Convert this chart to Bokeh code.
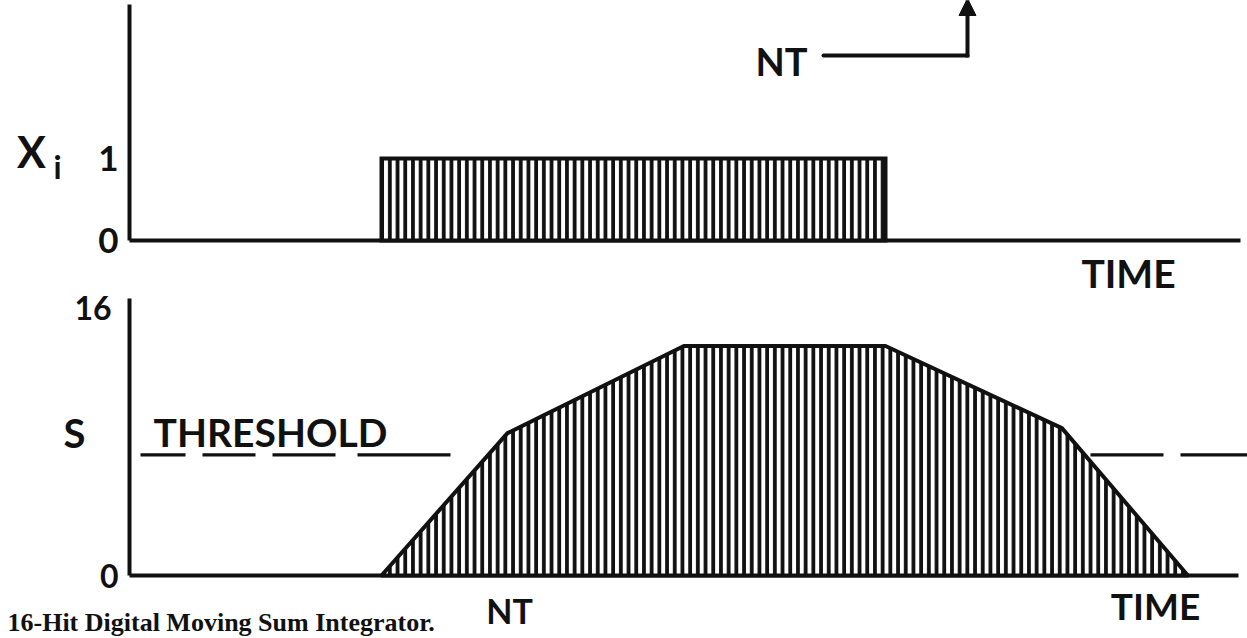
from bokeh.plotting import figure
from bokeh.models import Range1d, Arrow, NormalHead
from bokeh.core.properties import value
from bokeh.embed import file_html
from bokeh.resources import INLINE

# ---------------- data ----------------
pulse_start = [10.0]
pulse_end = [30.0]
pulse_level = [1.0]

sum_t = [10.0, 15.0, 22.0, 30.0, 37.0, 42.0]
sum_s = [0.0, 8.5, 13.7, 13.7, 8.8, 0.0]

threshold = 7.2

xi_ticks = [0, 1]
xi_tick_labels = ["0", "1"]
s_ticks = [0, 16]
s_tick_labels = ["0", "16"]

# ---------------- layout constants (pixels) ----------------
W, H = 1247, 638
PX_T0, PX_PER_T = 129.0, 25.2      # time axis
TOP_Y0, TOP_PX = 240.0, 82.0       # Xi panel
BOT_Y0, BOT_PX = 575.0, 16.75      # S panel


def tx(px):
    return (px - PX_T0) / PX_PER_T


def ty_top(py):
    return (TOP_Y0 - py) / TOP_PX


def ty_bot(py):
    return (BOT_Y0 - py) / BOT_PX


SANS = value("Lato")
SERIF = value("Liberation Serif")
INK = "#111111"
LW = 4

p = figure(width=W, height=H, output_backend="svg", toolbar_location=None,
           x_range=Range1d(tx(0), tx(W)), y_range=Range1d(ty_bot(H), ty_bot(0)),
           x_axis_location=None, y_axis_location=None,
           min_border=0, min_border_left=0, min_border_right=0,
           min_border_top=0, min_border_bottom=0)
p.extra_y_ranges = {"xi": Range1d(ty_top(H), ty_top(0))}
p.grid.visible = False
p.outline_line_color = None
p.background_fill_color = "white"
p.border_fill_color = "white"


def label(x, y, txt, size, rng=None, align="center"):
    kw = dict(y_range_name=rng) if rng else {}
    p.text(x=x, y=y, text=txt, text_font=SANS, text_font_size=size,
           text_font_style="bold", text_align=align, text_baseline="middle",
           text_color=INK, **kw)


# ---------------- top panel: X_i ----------------
p.segment(x0=[0], y0=[0], x1=[0], y1=[ty_top(4)], y_range_name="xi",
          line_color=INK, line_width=LW)
p.segment(x0=[0], y0=[0], x1=[tx(1240)], y1=[0], y_range_name="xi",
          line_color=INK, line_width=LW)
p.quad(left=pulse_start, right=pulse_end, bottom=[0], top=pulse_level,
       y_range_name="xi", fill_color="white", line_color=INK, line_width=LW,
       line_join="miter", hatch_pattern="vertical_line", hatch_color=INK,
       hatch_weight=3.8, hatch_scale=7.7)

label([tx(118)] * 2, xi_ticks, xi_tick_labels, "35px", "xi", "right")
label([tx(31)], [ty_top(151)], ["X"], "43px", "xi")
label([tx(57)], [ty_top(166)], ["i"], "32px", "xi")
label([tx(1128)], [ty_top(272)], ["TIME"], "39px", "xi")

# NT arrow
label([tx(781)], [ty_top(60)], ["NT"], "38px", "xi")
p.segment(x0=[tx(823)], y0=[ty_top(55)], x1=[tx(967)], y1=[ty_top(55)],
          y_range_name="xi", line_color=INK, line_width=LW, line_cap="round")
p.add_layout(Arrow(x_start=tx(967), y_start=ty_top(57), x_end=tx(967),
                   y_end=ty_top(-2), y_range_name="xi", line_color=INK,
                   line_width=LW,
                   end=NormalHead(size=17, fill_color=INK, line_color=INK,
                                  line_width=1)))

# ---------------- bottom panel: S ----------------
p.segment(x0=[0], y0=[0], x1=[0], y1=[ty_bot(298)], line_color=INK,
          line_width=LW)
p.segment(x0=[0], y0=[0], x1=[tx(1238)], y1=[0], line_color=INK,
          line_width=LW)
p.patch(x=sum_t, y=sum_s, fill_color="white", line_color=INK, line_width=LW,
        line_join="round", hatch_pattern="vertical_line", hatch_color=INK,
        hatch_weight=3.8, hatch_scale=7.7)

p.line(x=[tx(140), tx(450)], y=[threshold, threshold], line_color=INK,
       line_width=3.2, line_dash="45 17 53 17 63 22 93 60")
p.line(x=[tx(1090), tx(W)], y=[threshold, threshold], line_color=INK,
       line_width=3.2, line_dash="73 17")
label([tx(270)], [ty_bot(431)], ["THRESHOLD"], "39px")

label([tx(118), tx(111)], s_ticks, s_tick_labels, "32px", None, "right")
label([tx(74)], [ty_bot(432)], ["S"], "40px")
label([tx(509)], [ty_bot(610)], ["NT"], "34px")
label([tx(1155)], [ty_bot(605)], ["TIME"], "37px")

p.text(x=[tx(7)], y=[ty_bot(622)], text=["16-Hit Digital Moving Sum Integrator."],
       text_font=SERIF, text_font_size="26px", text_font_style="bold",
       text_align="left", text_baseline="alphabetic", text_color=INK)

open("out.html", "w").write(file_html(p, INLINE))
